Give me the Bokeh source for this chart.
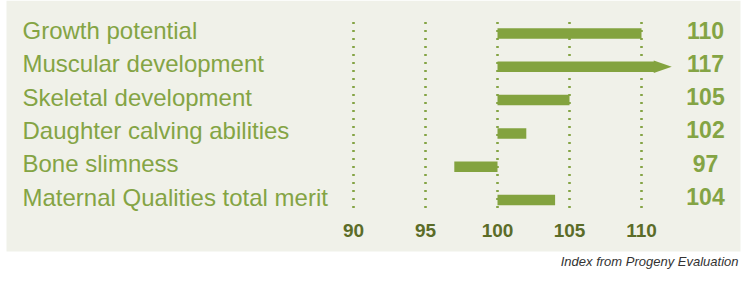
from bokeh.plotting import figure
from bokeh.models import Range1d, BoxAnnotation
from bokeh.core.properties import value
from bokeh.embed import file_html
from bokeh.resources import INLINE

# ---- data ----
traits = ["Growth potential", "Muscular development", "Skeletal development",
          "Daughter calving abilities", "Bone slimness", "Maternal Qualities total merit"]
indexes = [110, 117, 105, 102, 97, 104]
ticks = [90, 95, 100, 105, 110]
tick_labels = ["90", "95", "100", "105", "110"]
base = 100
footer = "Index from Progeny Evaluation"

# ---- layout constants (pixels) ----
W, H = 748, 280
PX_PER_UNIT = 14.4          # horizontal pixels per index point
ROW_PX = 33.3               # vertical pixels per row
BASE_PX = 497               # pixel position of the base (100)
ROW0_PX = 33                # pixel position of first row centre

x0 = base - BASE_PX / PX_PER_UNIT
x1 = x0 + W / PX_PER_UNIT
y_top = -ROW0_PX / ROW_PX
y_bot = (H - ROW0_PX) / ROW_PX

def xpx(px):
    return x0 + px / PX_PER_UNIT

def ypx(px):
    return (px - ROW0_PX) / ROW_PX

BG = "#f0f1e9"
GREEN = "#83a33f"
LABEL = "#84a444"
TICK = "#5b6c28"

p = figure(width=W, height=H, output_backend="svg", toolbar_location=None,
           x_range=Range1d(x0, x1), y_range=Range1d(y_bot, y_top),
           min_border=0, border_fill_color="white", background_fill_color="white",
           outline_line_color=None)
p.axis.visible = False
p.grid.visible = False

# panel
p.add_layout(BoxAnnotation(left=xpx(6), right=xpx(740), top=y_top, bottom=ypx(251),
                           fill_color=BG, fill_alpha=1, line_color=None, level="underlay"))

rows = list(range(len(traits)))

# dotted gridlines
p.segment(x0=ticks, y0=[ypx(21.5)] * len(ticks), x1=ticks, y1=[ypx(212)] * len(ticks),
          line_color=LABEL, line_width=2.6, line_dash="2 6")

# bars (long values truncated with an arrow)
CAP_BODY, CAP_TIP = 110.9, 112.1
lefts = [min(base, v) for v in indexes]
rights = [max(base, min(v, CAP_BODY)) for v in indexes]
p.hbar(y=rows, left=lefts, right=rights, height=10.5 / ROW_PX,
       fill_color=GREEN, line_color=None)
arrow_rows = [r for r, v in zip(rows, indexes) if v > CAP_BODY]
if arrow_rows:
    hh = 6.2 / ROW_PX
    p.patches(xs=[[CAP_BODY - 0.05, CAP_BODY - 0.05, CAP_TIP] for _ in arrow_rows],
              ys=[[r - hh, r + hh, r] for r in arrow_rows],
              fill_color=GREEN, line_color=None)

# category labels
p.text(x=[x0] * len(traits), y=rows, text=traits, x_offset=22, y_offset=-3,
       text_font=value("Liberation Sans"), text_font_size="24px",
       text_color=LABEL, text_baseline="alphabetic", text_align="left")

# value labels
p.text(x=[xpx(705)] * len(indexes), y=rows, text=[str(v) for v in indexes], y_offset=-3.5,
       text_font=value("Liberation Sans"), text_font_size="23px", text_font_style="bold",
       text_color=LABEL, text_baseline="alphabetic", text_align="center")

# tick labels
p.text(x=ticks, y=[ypx(230.3)] * len(ticks), text=tick_labels,
       text_font=value("Liberation Sans"), text_font_size="19px", text_font_style="bold",
       text_color=TICK, text_baseline="alphabetic", text_align="center")

# footer
p.text(x=[xpx(738)], y=[ypx(261)], text=[footer],
       text_font=value("Liberation Sans"), text_font_size="13px", text_font_style="italic",
       text_color="#333333", text_baseline="alphabetic", text_align="right")

open("out.html", "w").write(file_html(p, INLINE))
